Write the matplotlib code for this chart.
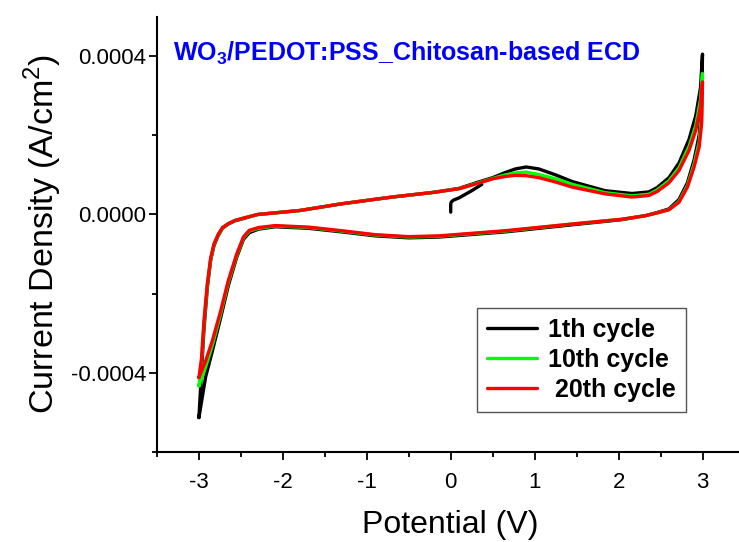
# cyclic voltammetry of the WO3/PEDOT:PSS chitosan ECD, cycles 1, 10, 20
import numpy as np
import matplotlib
matplotlib.use("Agg")
import matplotlib.pyplot as plt
from matplotlib.ticker import MultipleLocator, FormatStrFormatter

# potentials (V) of the forward (-3 -> 3) and reverse (3 -> -3) sweeps
v_fwd = [-3.0, -2.97, -2.94, -2.9, -2.86, -2.82, -2.77, -2.72, -2.65, -2.57,
         -2.45, -2.3, -1.8, -1.3, -0.7, -0.2, 0.1, 0.33, 0.5, 0.65, 0.77, 0.9,
         1.05, 1.25, 1.45, 1.84, 2.16, 2.36, 2.46, 2.6, 2.72, 2.84, 2.92, 2.976, 3.0]
v_rev = [3.0, 2.99, 2.96, 2.9, 2.82, 2.72, 2.6, 2.46, 2.32, 2.04, 1.45, 0.65,
         -0.14, -0.5, -0.9, -1.3, -1.69, -2.09, -2.29, -2.4, -2.47, -2.55, -2.65,
         -2.74, -2.84, -2.92, -3.0]

# current density in units of 1e-4 A/cm2
j1_fwd = [-5.13, -4.0, -2.9, -1.85, -1.15, -0.78, -0.53, -0.35, -0.24, -0.16,
          -0.09, 0.0, 0.10, 0.27, 0.44, 0.56, 0.66, 0.82, 0.93, 1.06, 1.15, 1.2,
          1.15, 1.0, 0.83, 0.6, 0.53, 0.57, 0.68, 0.93, 1.3, 1.9, 2.5, 3.2, 4.05]
j10_fwd = [-4.33, -3.75, -2.75, -1.78, -1.12, -0.75, -0.51, -0.34, -0.23, -0.15,
           -0.08, 0.0, 0.10, 0.27, 0.44, 0.56, 0.65, 0.8, 0.91, 1.0, 1.05, 1.07,
           1.01, 0.9, 0.76, 0.55, 0.47, 0.51, 0.62, 0.85, 1.18, 1.72, 2.25, 2.9, 3.56]
j20_fwd = [-4.12, -3.65, -2.7, -1.75, -1.1, -0.74, -0.5, -0.33, -0.23, -0.15,
           -0.08, 0.0, 0.10, 0.27, 0.44, 0.56, 0.65, 0.79, 0.9, 0.96, 0.99, 0.98,
           0.93, 0.82, 0.69, 0.52, 0.44, 0.48, 0.58, 0.8, 1.11, 1.62, 2.13, 2.72, 3.35]

j1_rev = [4.05, 2.8, 2.0, 1.38, 0.8, 0.38, 0.14, 0.05, -0.03, -0.13, -0.26,
          -0.44, -0.57, -0.59, -0.54, -0.44, -0.35, -0.31, -0.37, -0.46, -0.63,
          -1.08, -1.8, -2.6, -3.45, -4.1, -5.13]
j10_rev = [3.56, 2.5, 1.82, 1.27, 0.73, 0.33, 0.12, 0.04, -0.03, -0.12, -0.24,
           -0.42, -0.55, -0.57, -0.52, -0.42, -0.33, -0.29, -0.35, -0.42, -0.59,
           -1.03, -1.72, -2.5, -3.3, -3.85, -4.33]
j20_rev = [3.35, 2.3, 1.7, 1.2, 0.69, 0.31, 0.12, 0.04, -0.03, -0.12, -0.24,
           -0.41, -0.54, -0.56, -0.51, -0.41, -0.32, -0.28, -0.33, -0.4, -0.57,
           -1.0, -1.67, -2.43, -3.19, -3.7, -4.12]

# first cycle starts at 0 V before joining the forward sweep
v1_start = [0.0, 0.0, 0.005, 0.03, 0.1, 0.25, 0.37]
j1_start = [0.06, 0.26, 0.31, 0.36, 0.42, 0.6, 0.76]

labels = ["1th cycle", "10th cycle", " 20th cycle"]
colors = ["black", "#00ff00", "red"]

plt.rcParams["font.family"] = ["Liberation Sans", "DejaVu Sans"]
plt.rcParams["mathtext.fontset"] = "custom"
plt.rcParams["mathtext.rm"] = "Liberation Sans"
plt.rcParams["mathtext.bf"] = "Liberation Sans:bold"
plt.rcParams["axes.unicode_minus"] = False

fig = plt.figure(figsize=(7.39, 5.42), dpi=100)
ax = fig.add_axes([0.2124, 0.166, 0.795, 0.8035])

lw = 2.4
scale = 1e-4
cycles = [(j1_fwd, j1_rev), (j10_fwd, j10_rev), (j20_fwd, j20_rev)]
for (jf, jr), col, lab in zip(cycles, colors, labels):
    v = list(v_fwd) + list(v_rev)
    j = np.array(list(jf) + list(jr)) * scale
    ax.plot(v, j, color=col, lw=lw, label=lab, solid_joinstyle="round",
            solid_capstyle="round")
    if lab.startswith("1th"):
        ax.plot(v1_start, np.array(j1_start) * scale, color=col, lw=lw,
                solid_joinstyle="round", solid_capstyle="round")

ax.set_xlim(-3.5, 3.5)
ax.set_ylim(-0.0006, 0.0005)

ax.spines["top"].set_visible(False)
ax.spines["right"].set_visible(False)
ax.spines["left"].set_linewidth(1.5)
ax.spines["bottom"].set_linewidth(1.5)

ax.xaxis.set_major_locator(MultipleLocator(1))
ax.xaxis.set_minor_locator(MultipleLocator(0.5))
ax.yaxis.set_major_locator(MultipleLocator(0.0004))
ax.yaxis.set_minor_locator(MultipleLocator(0.0002))
ax.yaxis.set_major_formatter(FormatStrFormatter("%.4f"))
ax.xaxis.set_major_formatter(FormatStrFormatter("%d"))
ax.tick_params(which="major", direction="out", length=5.5, width=1.3, labelsize=16)
ax.tick_params(which="minor", direction="out", length=3.5, width=1.3)
ax.tick_params(axis="x", which="major", pad=9)
ax.tick_params(axis="y", which="major", pad=2)

ax.set_xlabel("Potential (V)", fontsize=23, labelpad=12)
ax.set_ylabel(r"Current Density (A/cm$^\mathrm{2}$)", fontsize=24.5, labelpad=5)

fig.text(173 / 739, 1 - 53 / 542, r"WO$_\mathbf{3}$/PEDOT:PSS_Chitosan-based ECD",
         color="blue", fontsize=18, fontweight="bold", ha="left", va="center")

leg = ax.legend(loc="upper left", bbox_to_anchor=(477 / 739, 1 - 308 / 542),
                bbox_transform=fig.transFigure, fancybox=False, framealpha=1,
                edgecolor="#555555", prop={"weight": "bold", "size": 18},
                handlelength=2.0, labelspacing=0.24, borderpad=0.4,
                handletextpad=0.45, borderaxespad=0)
leg.get_frame().set_linewidth(1.0)

fig.savefig("out.png", dpi=100)
